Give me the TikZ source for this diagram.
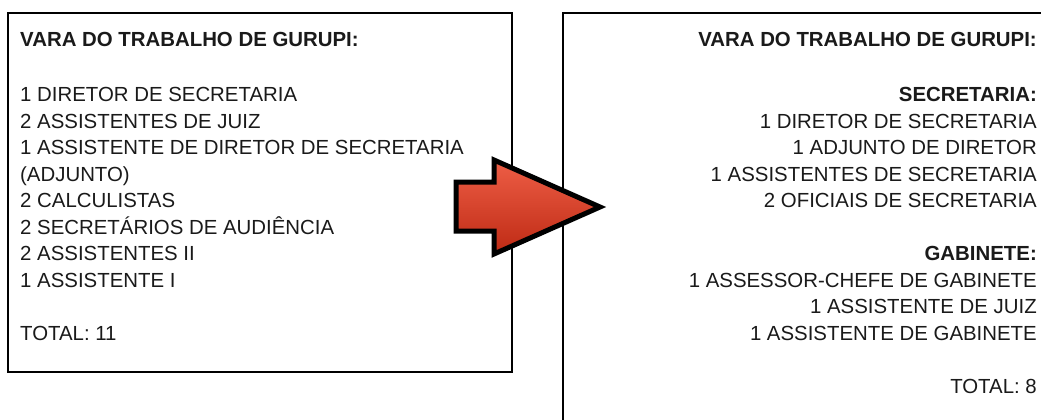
\documentclass[tikz,border=0pt]{standalone}
\usepackage{fontspec}
\setmainfont{Liberation Sans}
\usepackage{tikz}
\usetikzlibrary{positioning,calc}

\definecolor{arrowtop}{RGB}{238,94,70}
\definecolor{arrowbot}{RGB}{190,42,20}
\definecolor{ink}{RGB}{26,26,26}

\begin{document}
\begin{tikzpicture}[
  x=1pt, y=-1pt,
  box/.style={
    draw=black, line width=2pt, fill=white,
    anchor=north west, inner sep=0pt
  },
  item/.style={font=\fontsize{20.4}{24}\selectfont, text=ink, inner sep=0pt},
  head/.style={item, font=\fontsize{20.4}{24}\selectfont\bfseries},
]
\useasboundingbox (0,0) rectangle (1041,420);
\clip (0,0) rectangle (1041,420);
% boxes
\node[box, minimum width=504pt, minimum height=359pt] (old) at (7,12) {};
\node[box, minimum width=520pt, minimum height=430pt] (new) at (562,12) {};
% left box: current staff
\node[head, anchor=base west] (oldtitle) at (20,47) {VARA DO TRABALHO DE GURUPI:};
\foreach \t [count=\i from 0] in {
  1 DIRETOR DE SECRETARIA, 2 ASSISTENTES DE JUIZ,
  1 ASSISTENTE DE DIRETOR DE SECRETARIA, {{(ADJUNTO)}},
  2 CALCULISTAS, 2 SECRETÁRIOS DE AUDIÊNCIA,
  2 ASSISTENTES II, 1 ASSISTENTE I}{
  \node[item, anchor=base west] (old\i) at (20,101.5+\i*26.5) {\t};
}
\node[item, anchor=base west] (oldtotal) at (20,340) {TOTAL: 11};
% right box: new staff
\node[head, anchor=base east] (newtitle) at (1037,47) {VARA DO TRABALHO DE GURUPI:};
\node[head, anchor=base east] (sec) at (1037,101.5) {SECRETARIA:};
\foreach \t [count=\i from 1] in {
  1 DIRETOR DE SECRETARIA, 1 ADJUNTO DE DIRETOR,
  1 ASSISTENTES DE SECRETARIA, 2 OFICIAIS DE SECRETARIA}{
  \node[item, anchor=base east] (sec\i) at (1037,101.5+\i*26.5) {\t};
}
\node[head, anchor=base east] (gab) at (1037,260.5) {GABINETE:};
\foreach \t [count=\i from 1] in {
  1 ASSESSOR-CHEFE DE GABINETE, 1 ASSISTENTE DE JUIZ,
  1 ASSISTENTE DE GABINETE}{
  \node[item, anchor=base east] (gab\i) at (1037,260.5+\i*26.5) {\t};
}
\node[item, anchor=base east] (newtotal) at (1037,393) {TOTAL: 8};
% big red arrow between the boxes
\path[draw=black, line width=5pt, miter limit=10,
  top color=arrowtop, bottom color=arrowbot]
  (456,182) -- (494,182) -- (494,160) -- (600,207)
  -- (494,254) -- (494,231) -- (456,231) -- cycle;
\end{tikzpicture}
\end{document}
